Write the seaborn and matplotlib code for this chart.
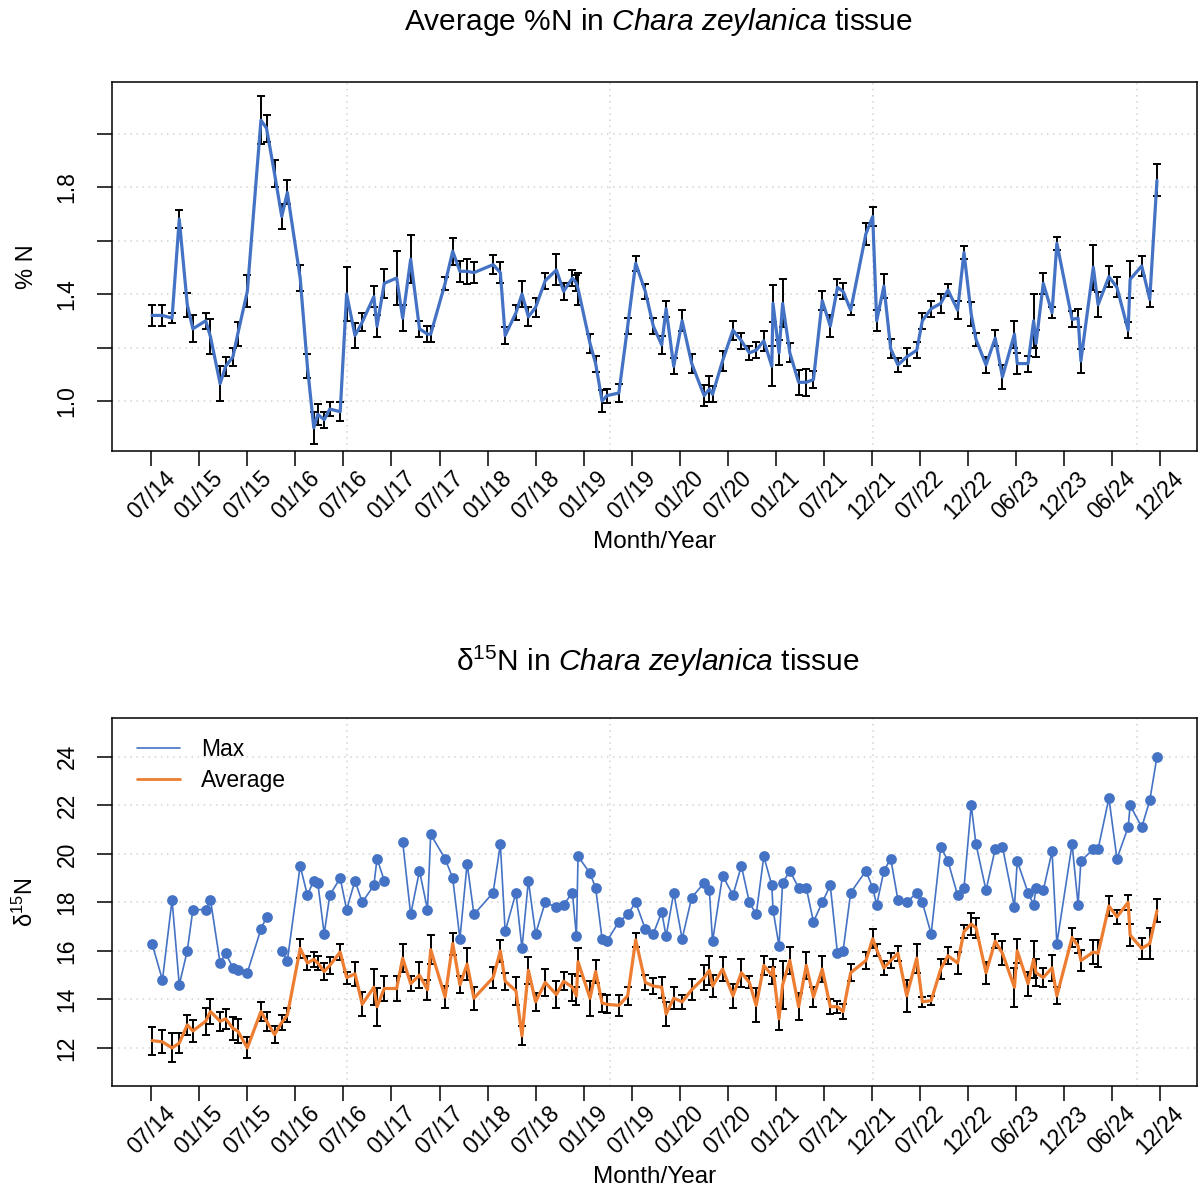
import numpy as np
import pandas as pd
import matplotlib
matplotlib.use("Agg")
import matplotlib.pyplot as plt
from matplotlib.lines import Line2D
import seaborn as sns

# sampling dates, as months after July 2014
months = [0.1, 1.4, 2.6, 3.5, 4.5, 5.2, 6.8, 7.4, 8.6, 9.3,
          10.2, 10.8, 12.0, 13.7, 14.4, 15.4, 16.3, 17.0, 18.6, 19.5,
          20.3, 20.8, 21.6, 22.3, 23.6, 24.4, 25.45, 26.35, 27.8, 28.2,
          29.1, 30.65, 31.4, 32.4, 33.5, 34.5, 34.9, 36.7, 37.65, 38.55,
          39.45, 40.3, 42.7, 43.6, 44.2, 45.55, 46.3, 47.1, 48.0, 49.2,
          50.6, 51.5, 52.6, 53.1, 53.3, 54.8, 55.5, 56.3, 56.9, 58.4,
          59.5, 60.5, 61.7, 62.7, 63.75, 64.3, 65.25, 66.3, 67.5, 69.05,
          69.7, 70.1, 71.35, 72.65, 73.7, 74.7, 75.55, 76.5, 77.5, 77.65,
          78.4, 78.85, 79.75, 80.85, 81.8, 82.7, 83.8, 84.8, 85.7, 86.4,
          87.35, 89.25, 90.1, 90.6, 91.5, 92.35, 93.25, 94.35, 95.6, 96.3,
          97.4, 98.6, 99.5, 100.7, 101.5, 102.4, 103.0, 104.25, 105.4, 106.3,
          107.8, 108.15, 109.5, 110.2, 110.5, 111.4, 112.5, 113.1, 115.0, 115.75,
          116.1, 117.65, 118.25, 119.6, 120.6, 122.0, 122.25, 123.7, 124.7, 125.6]

# average %N and its error
pct_n = [1.32, 1.32, 1.31, 1.68, 1.36, 1.27, 1.30, 1.24, 1.065, 1.13,
         1.165, 1.25, 1.41, 2.05, 2.02, 1.85, 1.69, 1.78, 1.46, 1.13,
         0.90, 0.95, 0.93, 0.97, 0.96, 1.40, 1.245, 1.295, 1.39, 1.28,
         1.44, 1.46, 1.31, 1.53, 1.27, 1.25, 1.25, 1.44, 1.56, 1.485,
         1.485, 1.48, 1.51, 1.48, 1.245, 1.33, 1.40, 1.315, 1.35, 1.45,
         1.49, 1.41, 1.46, 1.44, 1.42, 1.215, 1.14, 1.00, 1.02, 1.03,
         1.28, 1.515, 1.41, 1.28, 1.21, 1.345, 1.13, 1.30, 1.14, 1.02,
         1.045, 1.025, 1.15, 1.265, 1.225, 1.18, 1.19, 1.225, 1.13, 1.365,
         1.18, 1.365, 1.18, 1.07, 1.07, 1.08, 1.375, 1.28, 1.425, 1.41,
         1.34, 1.625, 1.69, 1.30, 1.43, 1.195, 1.135, 1.165, 1.19, 1.30,
         1.345, 1.365, 1.415, 1.34, 1.555, 1.325, 1.23, 1.135, 1.235, 1.09,
         1.25, 1.14, 1.14, 1.30, 1.215, 1.44, 1.33, 1.59, 1.305, 1.31,
         1.15, 1.50, 1.36, 1.465, 1.425, 1.265, 1.455, 1.505, 1.38, 1.825]
pct_n_sd = [0.04, 0.04, 0.02, 0.033, 0.045, 0.05, 0.03, 0.065, 0.065, 0.035,
            0.035, 0.045, 0.06, 0.09, 0.05, 0.05, 0.045, 0.045, 0.05, 0.045,
            0.06, 0.04, 0.03, 0.025, 0.035, 0.10, 0.047, 0.033, 0.04, 0.04,
            0.055, 0.10, 0.048, 0.09, 0.03, 0.03, 0.03, 0.025, 0.05, 0.04,
            0.047, 0.04, 0.035, 0.038, 0.03, 0.028, 0.047, 0.035, 0.037, 0.03,
            0.058, 0.033, 0.03, 0.03, 0.06, 0.035, 0.03, 0.04, 0.026, 0.034,
            0.03, 0.028, 0.028, 0.031, 0.034, 0.03, 0.03, 0.04, 0.035, 0.04,
            0.05, 0.03, 0.036, 0.036, 0.03, 0.025, 0.03, 0.038, 0.075, 0.068,
            0.047, 0.09, 0.036, 0.046, 0.05, 0.033, 0.035, 0.04, 0.03, 0.03,
            0.02, 0.04, 0.035, 0.04, 0.045, 0.035, 0.025, 0.033, 0.03, 0.03,
            0.03, 0.035, 0.022, 0.035, 0.025, 0.045, 0.025, 0.03, 0.03, 0.045,
            0.05, 0.04, 0.03, 0.10, 0.05, 0.04, 0.02, 0.025, 0.03, 0.035,
            0.045, 0.085, 0.047, 0.04, 0.037, 0.03, 0.07, 0.036, 0.03, 0.06]

# d15N: maximum and average (with error)
d15n_max = [16.3, 14.8, 18.1, 14.6, 16.0, 17.7, 17.7, 18.1, 15.5, 15.9,
            15.3, 15.2, 15.1, 16.9, 17.4, np.nan, 16.0, 15.6, 19.5, 18.3,
            18.9, 18.8, 16.7, 18.3, 19.0, 17.7, 18.9, 18.0, 18.7, 19.8,
            18.9, np.nan, 20.5, 17.5, 19.3, 17.7, 20.8, 19.8, 19.0, 16.5,
            19.6, 17.5, 18.4, 20.4, 16.8, 18.4, 16.1, 18.9, 16.7, 18.0,
            17.8, 17.9, 18.4, 16.6, 19.9, 19.2, 18.6, 16.5, 16.4, 17.2,
            17.5, 18.0, 16.9, 16.7, 17.6, 16.6, 18.4, 16.5, 18.2, 18.8,
            18.5, 16.4, 19.1, 18.3, 19.5, 18.0, 17.5, 19.9, 18.7, 17.7,
            16.2, 18.8, 19.3, 18.6, 18.6, 17.2, 18.0, 18.7, 15.9, 16.0,
            18.4, 19.3, 18.6, 17.9, 19.3, 19.8, 18.1, 18.0, 18.4, 18.0,
            16.7, 20.3, 19.7, 18.3, 18.6, 22.0, 20.4, 18.5, 20.2, 20.3,
            17.8, 19.7, 18.4, 17.9, 18.6, 18.5, 20.1, 16.3, 20.4, 17.9,
            19.7, 20.2, 20.2, 22.3, 19.8, 21.1, 22.0, 21.1, 22.2, 24.0]
d15n_avg = [12.3, 12.25, 12.0, 12.2, 12.95, 12.7, 13.1, 13.5, 13.1, 13.2,
            12.8, 12.7, 12.0, 13.5, 13.1, 12.55, 13.05, 13.35, 16.1, 15.5,
            15.65, 15.5, 15.15, 15.4, 15.95, 14.9, 15.05, 13.8, 14.5, 13.7,
            14.45, 14.45, 15.7, 14.65, 15.0, 14.4, 16.05, 14.1, 16.3, 14.6,
            15.45, 14.05, 14.9, 16.0, 14.75, 14.35, 12.5, 15.2, 13.9, 14.7,
            14.2, 14.75, 14.5, 14.15, 15.55, 14.05, 15.15, 13.85, 13.8, 13.75,
            14.15, 16.45, 14.7, 14.55, 14.5, 13.4, 14.05, 13.9, 14.4, 14.9,
            15.2, 14.55, 15.25, 14.15, 15.1, 14.7, 13.75, 15.4, 15.0, 15.3,
            13.2, 14.6, 15.6, 13.7, 15.4, 14.1, 15.25, 13.7, 13.7, 13.5,
            15.1, 15.6, 16.5, 16.05, 15.3, 15.6, 15.9, 14.15, 15.7, 13.9,
            13.95, 15.25, 15.8, 15.5, 16.8, 17.1, 16.95, 15.1, 16.4, 15.9,
            14.5, 16.0, 14.65, 15.65, 15.1, 14.9, 15.3, 14.15, 16.55, 16.2,
            15.6, 15.95, 15.9, 17.85, 17.4, 18.0, 16.65, 16.1, 16.3, 17.65]
d15n_sd = [0.58, 0.47, 0.6, 0.42, 0.4, 0.45, 0.55, 0.5, 0.4, 0.4,
           0.47, 0.48, 0.43, 0.4, 0.4, 0.36, 0.3, 0.3, 0.4, 0.3,
           0.3, 0.3, 0.34, 0.35, 0.34, 0.25, 0.48, 0.5, 0.75, 0.78,
           0.5, 0.5, 0.57, 0.3, 0.55, 0.42, 0.6, 0.45, 0.45, 0.35,
           0.65, 0.48, 0.45, 0.45, 0.35, 0.57, 0.4, 0.55, 0.38, 0.57,
           0.55, 0.38, 0.56, 0.38, 0.58, 0.72, 0.46, 0.38, 0.38, 0.45,
           0.38, 0.3, 0.32, 0.33, 0.43, 0.48, 0.45, 0.3, 0.43, 0.5,
           0.6, 0.45, 0.48, 0.5, 0.58, 0.25, 0.7, 0.4, 0.35, 0.35,
           0.48, 1.0, 0.55, 0.55, 0.55, 0.4, 0.55, 0.3, 0.25, 0.3,
           0.35, 0.35, 0.4, 0.25, 0.3, 0.3, 0.3, 0.65, 0.6, 0.2,
           0.2, 0.4, 0.35, 0.45, 0.27, 0.45, 0.4, 0.45, 0.3, 0.5,
           0.8, 0.5, 0.5, 0.75, 0.55, 0.38, 0.55, 0.35, 0.4, 0.27,
           0.43, 0.5, 0.55, 0.4, 0.3, 0.3, 0.45, 0.45, 0.65, 0.47]

# x axis labels (every 6 months) and the date grid used by R's grid()
tick_months = [0, 6, 12, 18, 24, 30, 36, 42, 48, 54, 60,
               66, 72, 78, 84, 90, 96, 102, 108, 114, 120, 126]
tick_labels = ["07/14", "01/15", "07/15", "01/16", "07/16", "01/17", "07/17",
               "01/18", "07/18", "01/19", "07/19", "01/20", "07/20", "01/21",
               "07/21", "12/21", "07/22", "12/22", "06/23", "12/23", "06/24", "12/24"]
grid_months = [24.4, 57.3, 90.15, 123.1]

BLUE = "#4472C4"
ORANGE = "#ED7D31"

df = pd.DataFrame({"month": months, "pct_n": pct_n, "pct_n_sd": pct_n_sd,
                   "d15n_max": d15n_max, "d15n_avg": d15n_avg, "d15n_sd": d15n_sd})
# missing max values break the line
df["seg"] = df["d15n_max"].isna().cumsum()
df_max = df.dropna(subset=["d15n_max"])

sns.set_style("white")
plt.rcParams["font.family"] = ["Liberation Sans", "DejaVu Sans"]
plt.rcParams["mathtext.fontset"] = "custom"
plt.rcParams["mathtext.rm"] = "Liberation Sans"
plt.rcParams["mathtext.it"] = "Liberation Sans:italic"
for key in ["text.color", "axes.labelcolor", "xtick.color", "ytick.color"]:
    plt.rcParams[key] = "black"

fig = plt.figure(figsize=(11.99, 11.88), dpi=100)
W, H = 1199, 1188
ax1 = fig.add_axes([112 / W, 1 - 451 / H, 1085 / W, 369 / H])
ax2 = fig.add_axes([112 / W, 1 - 1086 / H, 1085 / W, 368 / H])


def style_axis(ax):
    for s in ax.spines.values():
        s.set_color("black")
        s.set_linewidth(1.1)
    ax.set_xlim(-4.9, 130.6)
    ax.set_xticks(tick_months)
    ax.set_xticklabels(tick_labels, rotation=45, ha="center", va="top", fontsize=16.5)
    ax.tick_params(axis="both", direction="out", length=11, width=1.1, color="black",
                   bottom=True, left=True)
    ax.tick_params(axis="x", pad=0.5)
    ax.tick_params(axis="y", pad=13, labelsize=16.5)
    for lab in ax.get_yticklabels():
        lab.set_rotation(90)
        lab.set_va("center")
    for gx in grid_months:
        ax.axvline(gx, color="#D3D3D3", lw=1.1, ls=(0, (1, 3)), zorder=0)
    for gy in ax.get_yticks():
        ax.axhline(gy, color="#D3D3D3", lw=1.1, ls=(0, (1, 3)), zorder=0)


# --- top panel: %N
ax1.set_ylim(0.813, 2.193)
ax1.set_yticks([1.0, 1.2, 1.4, 1.6, 1.8, 2.0])
ax1.set_yticklabels(["1.0", "", "1.4", "", "1.8", ""])
style_axis(ax1)
ax1.errorbar(df["month"], df["pct_n"], yerr=df["pct_n_sd"], fmt="none",
             ecolor="black", elinewidth=1.4, capsize=3, capthick=1.4, zorder=2)
sns.lineplot(data=df, x="month", y="pct_n", ax=ax1, color=BLUE, lw=2.3,
             sort=False, estimator=None, zorder=3)
ax1.set_xlabel("Month/Year", fontsize=17.5, labelpad=5)
ax1.set_ylabel("% N", fontsize=17, labelpad=13)

# --- bottom panel: d15N
ax2.set_ylim(10.43, 25.6)
ax2.set_yticks([12, 14, 16, 18, 20, 22, 24])
ax2.set_yticklabels(["12", "14", "16", "18", "20", "22", "24"])
style_axis(ax2)
sns.lineplot(data=df_max, x="month", y="d15n_max", units="seg", estimator=None,
             sort=False, ax=ax2, color=BLUE, lw=1.2, zorder=3)
sns.scatterplot(data=df_max, x="month", y="d15n_max", ax=ax2, color=BLUE,
                s=60, edgecolor=BLUE, linewidth=0, zorder=4)
ax2.errorbar(df["month"], df["d15n_avg"], yerr=df["d15n_sd"], fmt="none",
             ecolor="black", elinewidth=1.4, capsize=3, capthick=1.4, zorder=2)
sns.lineplot(data=df, x="month", y="d15n_avg", ax=ax2, color=ORANGE, lw=2.3,
             sort=False, estimator=None, zorder=3)
ax2.set_xlabel("Month/Year", fontsize=17.5, labelpad=5)
ax2.set_ylabel(r"δ$^{15}$N", fontsize=17, labelpad=13)

handles = [Line2D([0], [0], color=BLUE, lw=1.2), Line2D([0], [0], color=ORANGE, lw=2.0)]
ax2.legend(handles, ["Max", "Average"], loc="upper left", frameon=False, fontsize=16.5,
           handlelength=1.9, handletextpad=0.9, labelspacing=0.35,
           borderaxespad=0.3, bbox_to_anchor=(0.008, 0.99))

# titles
fig.text(658 / W, 1 - 22 / H, r"Average %N in $\mathit{Chara\ zeylanica}$ tissue",
         ha="center", va="center", fontsize=21.5)
fig.text(658 / W, 1 - 661 / H, r"δ$^{15}$N in $\mathit{Chara\ zeylanica}$ tissue",
         ha="center", va="center", fontsize=21.5)

fig.savefig("out.png", dpi=100)
